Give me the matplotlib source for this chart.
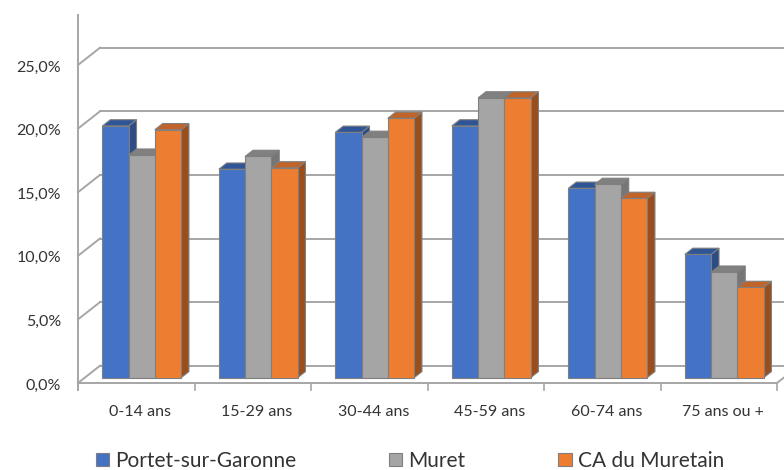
import numpy as np
import matplotlib
matplotlib.use("Agg")
import matplotlib.pyplot as plt
from matplotlib.patches import Polygon, Patch

categories = ["0-14 ans", "15-29 ans", "30-44 ans", "45-59 ans", "60-74 ans", "75 ans ou +"]
series_names = ["Portet-sur-Garonne", "Muret", "CA du Muretain"]
portet = [19.8, 16.4, 19.3, 19.8, 14.9, 9.7]
muret = [17.5, 17.4, 18.9, 22.0, 15.2, 8.3]
ca_muretain = [19.5, 16.5, 20.4, 22.0, 14.1, 7.1]
y_ticks = [0, 5, 10, 15, 20, 25]
y_tick_labels = ["0,0%", "5,0%", "10,0%", "15,0%", "20,0%", "25,0%"]

values = [portet, muret, ca_muretain]
front_cols = ["#4472C4", "#A5A5A5", "#ED7D31"]
top_cols = ["#2F5597", "#808080", "#C0642A"]
side_cols = ["#2B4C85", "#767676", "#9A4E1C"]

plt.rcParams['font.family'] = ['Lato', 'DejaVu Sans']

# oblique projection: depth offset in data units
DX = 0.189
DY = 1.36
Z0, Z1 = 0.3, 0.66
W = 0.225
GRID = "#A6A6A6"
TXT = "#333333"

fig = plt.figure(figsize=(7.84, 4.70), dpi=100)
ax = fig.add_axes([0, 0, 1, 1])
px_x = 116.5
px_y = 12.72
ax.set_xlim(-78 / px_x, (784 - 78) / px_x)
ax.set_ylim((383 - 470) / px_y, 383 / px_y)
ax.axis('off')

n = len(categories)
xend = n

# back wall gridlines and left diagonals
for v in y_ticks:
    ax.plot([DX, xend + 1], [v + DY, v + DY], color=GRID, lw=1.4, zorder=1)
    ax.plot([0, DX], [v, v + DY], color=GRID, lw=1.4, zorder=1)
# front floor edge and right diagonal
ax.plot([0, xend], [0, 0], color=GRID, lw=1.4, zorder=1)
ax.plot([xend, xend + DX], [0, DY], color=GRID, lw=1.4, zorder=1)
# y axis line
ax.plot([0, 0], [-0.55, 28.9], color=GRID, lw=1.4, zorder=1)
for i in range(n + 1):
    ax.plot([i, i], [0, -0.55], color=GRID, lw=1.2, zorder=1)

# bars
for i in range(n):
    for k in range(3):
        v = values[k][i]
        x0 = i + 0.49 + (k - 1.5) * W + Z0 * DX
        x1 = x0 + W
        b = Z0 * DY
        t = b + v
        ddx = (Z1 - Z0) * DX
        ddy = (Z1 - Z0) * DY
        side = Polygon([(x1, b), (x1 + ddx, b + ddy), (x1 + ddx, t + ddy), (x1, t)],
                       closed=True, fc=side_cols[k], ec="#7F7F7F", lw=0.8, zorder=3)
        top = Polygon([(x0, t), (x1, t), (x1 + ddx, t + ddy), (x0 + ddx, t + ddy)],
                      closed=True, fc=top_cols[k], ec="#7F7F7F", lw=0.8, zorder=3)
        ax.add_patch(side)
        ax.add_patch(top)
        ax.bar(x0, v, width=W, bottom=b, align='edge', color=front_cols[k],
               edgecolor="#7F7F7F", linewidth=0.8, zorder=3)

# tick labels
for v, lab in zip(y_ticks, y_tick_labels):
    ax.text(-17 / px_x, v - 0.2, lab, ha='right', va='center', fontsize=11.5, color=TXT)
for i, lab in enumerate(categories):
    ax.text(i + 0.5 + 0.034, -2.3, lab, ha='center', va='center', fontsize=11.5, color=TXT)

handles = [Patch(fc=front_cols[k], ec="#7F7F7F", lw=0.8) for k in range(3)]
ax.legend(handles, series_names, ncol=3, loc='center left',
          bbox_to_anchor=(96 / 784, 1 - 461 / 470), frameon=False,
          fontsize=15, handlelength=0.63, handleheight=0.63, handletextpad=0.3,
          columnspacing=4.45, borderpad=0, borderaxespad=0, labelcolor=TXT)

fig.savefig("out.png", dpi=100)
